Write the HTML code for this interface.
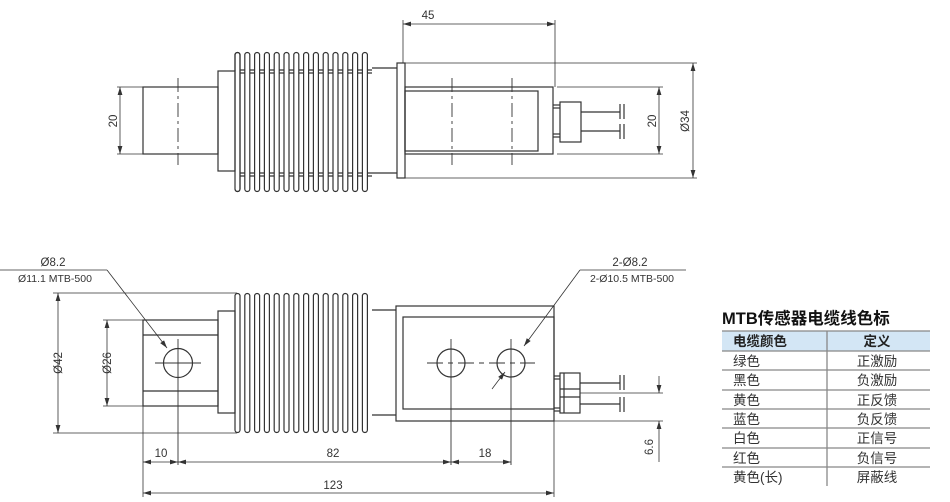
<!DOCTYPE html>
<html><head><meta charset="utf-8">
<style>
html,body{margin:0;padding:0;background:#fff;}
body{width:950px;height:502px;overflow:hidden;}
svg{display:block;}
text{font-family:"Liberation Sans","Noto Sans CJK SC",sans-serif;fill:#333;}
</style></head><body>
<svg width="950" height="502" viewBox="0 0 950 502" xmlns="http://www.w3.org/2000/svg">
<defs>
<marker id="a" viewBox="0 0 10 6" refX="10" refY="3" markerWidth="8" markerHeight="5" orient="auto-start-reverse" markerUnits="userSpaceOnUse"><path d="M0,0 L10,3 L0,6 z" fill="#333"/></marker>
</defs>
<g stroke="#333" stroke-width="1.2" fill="none">
<!-- TOP VIEW -->
<rect x="143" y="87" width="75" height="67"/>
<rect x="218" y="71" width="17" height="100"/>
<g id="fins">
<path d="M235,71 V55 a2.5,2.5 0 0 1 5,0 V189 a2.5,2.5 0 0 1 -5,0"/>
</g>
<g>
<path d="M235,55 a2.5,2.5 0 0 1 5,0 V189 a2.5,2.5 0 0 1 -5,0 Z" transform="translate(0,0)"/>
<path d="M235,55 a2.5,2.5 0 0 1 5,0 V189 a2.5,2.5 0 0 1 -5,0 Z" transform="translate(9.8,0)"/>
<path d="M235,55 a2.5,2.5 0 0 1 5,0 V189 a2.5,2.5 0 0 1 -5,0 Z" transform="translate(19.6,0)"/>
<path d="M235,55 a2.5,2.5 0 0 1 5,0 V189 a2.5,2.5 0 0 1 -5,0 Z" transform="translate(29.4,0)"/>
<path d="M235,55 a2.5,2.5 0 0 1 5,0 V189 a2.5,2.5 0 0 1 -5,0 Z" transform="translate(39.2,0)"/>
<path d="M235,55 a2.5,2.5 0 0 1 5,0 V189 a2.5,2.5 0 0 1 -5,0 Z" transform="translate(49,0)"/>
<path d="M235,55 a2.5,2.5 0 0 1 5,0 V189 a2.5,2.5 0 0 1 -5,0 Z" transform="translate(58.8,0)"/>
<path d="M235,55 a2.5,2.5 0 0 1 5,0 V189 a2.5,2.5 0 0 1 -5,0 Z" transform="translate(68.6,0)"/>
<path d="M235,55 a2.5,2.5 0 0 1 5,0 V189 a2.5,2.5 0 0 1 -5,0 Z" transform="translate(78.4,0)"/>
<path d="M235,55 a2.5,2.5 0 0 1 5,0 V189 a2.5,2.5 0 0 1 -5,0 Z" transform="translate(88.2,0)"/>
<path d="M235,55 a2.5,2.5 0 0 1 5,0 V189 a2.5,2.5 0 0 1 -5,0 Z" transform="translate(98,0)"/>
<path d="M235,55 a2.5,2.5 0 0 1 5,0 V189 a2.5,2.5 0 0 1 -5,0 Z" transform="translate(107.8,0)"/>
<path d="M235,55 a2.5,2.5 0 0 1 5,0 V189 a2.5,2.5 0 0 1 -5,0 Z" transform="translate(117.6,0)"/>
<path d="M235,55 a2.5,2.5 0 0 1 5,0 V189 a2.5,2.5 0 0 1 -5,0 Z" transform="translate(127.4,0)"/>
</g>
<line x1="235" y1="70" x2="372" y2="70" stroke-dasharray="5,4.8" stroke-dashoffset="-5"/>
<line x1="235" y1="73" x2="372" y2="73" stroke-dasharray="5,4.8" stroke-dashoffset="-5"/>
<line x1="235" y1="173" x2="372" y2="173" stroke-dasharray="5,4.8" stroke-dashoffset="-5"/>
<line x1="235" y1="176" x2="372" y2="176" stroke-dasharray="5,4.8" stroke-dashoffset="-5"/>
<line x1="372" y1="68" x2="397" y2="68"/>
<line x1="372" y1="173" x2="397" y2="173"/>
<rect x="397" y="63" width="8" height="115"/>
<rect x="405" y="87" width="148" height="67"/>
<rect x="405" y="91" width="133" height="60"/>
<line x1="553" y1="105" x2="560" y2="105"/><line x1="553" y1="108" x2="560" y2="108"/>
<line x1="553" y1="134" x2="560" y2="134"/><line x1="553" y1="137" x2="560" y2="137"/>
<rect x="560" y="102" width="21" height="40"/>
<line x1="581" y1="112" x2="620" y2="112"/><line x1="581" y1="131" x2="620" y2="131"/>
<line x1="620" y1="104" x2="620" y2="119"/><line x1="624" y1="104" x2="624" y2="119"/>
<line x1="620" y1="124" x2="620" y2="139"/><line x1="624" y1="124" x2="624" y2="139"/>
<g stroke-width="0.9" stroke-dasharray="14,4,3,4">
<line x1="178" y1="78" x2="178" y2="165"/>
<line x1="452" y1="78" x2="452" y2="165"/>
<line x1="512" y1="78" x2="512" y2="165"/>
</g>
<!-- top dims -->
<g stroke-width="0.8">
<line x1="403" y1="20" x2="403" y2="63"/>
<line x1="555" y1="20" x2="555" y2="87"/>
<line x1="403" y1="24" x2="555" y2="24" marker-start="url(#a)" marker-end="url(#a)"/>
<line x1="117" y1="87" x2="143" y2="87"/>
<line x1="117" y1="154" x2="143" y2="154"/>
<line x1="120" y1="87" x2="120" y2="154" marker-start="url(#a)" marker-end="url(#a)"/>
<line x1="557" y1="87" x2="663" y2="87"/>
<line x1="557" y1="154" x2="663" y2="154"/>
<line x1="659" y1="87" x2="659" y2="154" marker-start="url(#a)" marker-end="url(#a)"/>
<line x1="405" y1="63" x2="697" y2="63"/>
<line x1="405" y1="178" x2="697" y2="178"/>
<line x1="693" y1="63" x2="693" y2="178" marker-start="url(#a)" marker-end="url(#a)"/>
</g>

<!-- BOTTOM VIEW -->
<rect x="143" y="320" width="75" height="86"/>
<line x1="143" y1="335" x2="218" y2="335"/>
<line x1="143" y1="391" x2="218" y2="391"/>
<rect x="218" y="311" width="17" height="102"/>
<g>
<path d="M235,296 a2.5,2.5 0 0 1 5,0 V430 a2.5,2.5 0 0 1 -5,0 Z" transform="translate(0,0)"/>
<path d="M235,296 a2.5,2.5 0 0 1 5,0 V430 a2.5,2.5 0 0 1 -5,0 Z" transform="translate(9.8,0)"/>
<path d="M235,296 a2.5,2.5 0 0 1 5,0 V430 a2.5,2.5 0 0 1 -5,0 Z" transform="translate(19.6,0)"/>
<path d="M235,296 a2.5,2.5 0 0 1 5,0 V430 a2.5,2.5 0 0 1 -5,0 Z" transform="translate(29.4,0)"/>
<path d="M235,296 a2.5,2.5 0 0 1 5,0 V430 a2.5,2.5 0 0 1 -5,0 Z" transform="translate(39.2,0)"/>
<path d="M235,296 a2.5,2.5 0 0 1 5,0 V430 a2.5,2.5 0 0 1 -5,0 Z" transform="translate(49,0)"/>
<path d="M235,296 a2.5,2.5 0 0 1 5,0 V430 a2.5,2.5 0 0 1 -5,0 Z" transform="translate(58.8,0)"/>
<path d="M235,296 a2.5,2.5 0 0 1 5,0 V430 a2.5,2.5 0 0 1 -5,0 Z" transform="translate(68.6,0)"/>
<path d="M235,296 a2.5,2.5 0 0 1 5,0 V430 a2.5,2.5 0 0 1 -5,0 Z" transform="translate(78.4,0)"/>
<path d="M235,296 a2.5,2.5 0 0 1 5,0 V430 a2.5,2.5 0 0 1 -5,0 Z" transform="translate(88.2,0)"/>
<path d="M235,296 a2.5,2.5 0 0 1 5,0 V430 a2.5,2.5 0 0 1 -5,0 Z" transform="translate(98,0)"/>
<path d="M235,296 a2.5,2.5 0 0 1 5,0 V430 a2.5,2.5 0 0 1 -5,0 Z" transform="translate(107.8,0)"/>
<path d="M235,296 a2.5,2.5 0 0 1 5,0 V430 a2.5,2.5 0 0 1 -5,0 Z" transform="translate(117.6,0)"/>
<path d="M235,296 a2.5,2.5 0 0 1 5,0 V430 a2.5,2.5 0 0 1 -5,0 Z" transform="translate(127.4,0)"/>
</g>
<line x1="372" y1="310" x2="396" y2="310"/>
<line x1="372" y1="415" x2="396" y2="415"/>
<rect x="396" y="306" width="158" height="115"/>
<rect x="403" y="317" width="151" height="92"/>
<circle cx="178" cy="363" r="14.5"/>
<circle cx="451" cy="363" r="14"/>
<circle cx="511" cy="363" r="14"/>
<line x1="554" y1="376" x2="560" y2="376"/><line x1="554" y1="379" x2="560" y2="379"/>
<line x1="554" y1="408" x2="560" y2="408"/><line x1="554" y1="411" x2="560" y2="411"/>
<rect x="560" y="373" width="20" height="40"/>
<line x1="560" y1="389" x2="580" y2="389"/><line x1="560" y1="397" x2="580" y2="397"/>
<line x1="564" y1="373" x2="564" y2="413"/>
<line x1="580" y1="383" x2="620" y2="383"/><line x1="580" y1="404" x2="620" y2="404"/>
<line x1="620" y1="375" x2="620" y2="390"/><line x1="624" y1="375" x2="624" y2="390"/>
<line x1="620" y1="397" x2="620" y2="412"/><line x1="624" y1="397" x2="624" y2="412"/>
<g stroke-width="0.9">
<line x1="155" y1="363" x2="201" y2="363"/>
<line x1="178" y1="339" x2="178" y2="465"/>
<line x1="427" y1="363" x2="535" y2="363" stroke-dasharray="16,5,5,5"/>
<line x1="451" y1="339" x2="451" y2="465"/>
<line x1="511" y1="339" x2="511" y2="465"/>
</g>
<!-- bottom dims -->
<g stroke-width="0.8">
<line x1="0" y1="270" x2="107" y2="270"/>
<line x1="107" y1="270" x2="167" y2="348" marker-end="url(#a)"/>
<line x1="580" y1="270" x2="686" y2="270"/>
<line x1="580" y1="270" x2="524" y2="346" marker-end="url(#a)"/>
<line x1="498" y1="381" x2="492" y2="389"/>
<line x1="505" y1="372" x2="498" y2="381" marker-start="url(#a)"/>
<line x1="53" y1="293" x2="237" y2="293"/>
<line x1="53" y1="433" x2="237" y2="433"/>
<line x1="58" y1="293" x2="58" y2="433" marker-start="url(#a)" marker-end="url(#a)"/>
<line x1="103" y1="320" x2="143" y2="320"/>
<line x1="103" y1="406" x2="143" y2="406"/>
<line x1="107" y1="320" x2="107" y2="406" marker-start="url(#a)" marker-end="url(#a)"/>
<line x1="143" y1="406" x2="143" y2="497"/>
<line x1="554" y1="421" x2="554" y2="497"/>
<line x1="143" y1="462" x2="178" y2="462" marker-start="url(#a)" marker-end="url(#a)"/>
<line x1="178" y1="462" x2="451" y2="462" marker-start="url(#a)" marker-end="url(#a)"/>
<line x1="451" y1="462" x2="511" y2="462" marker-start="url(#a)" marker-end="url(#a)"/>
<line x1="143" y1="493" x2="554" y2="493" marker-start="url(#a)" marker-end="url(#a)"/>
<line x1="580" y1="393" x2="663" y2="393"/>
<line x1="554" y1="421" x2="663" y2="421"/>
<line x1="659" y1="376" x2="659" y2="393" marker-end="url(#a)"/>
<line x1="659" y1="462" x2="659" y2="421" marker-end="url(#a)"/>
</g>
</g>

<g font-size="11.5" text-anchor="middle">
<text x="428" y="19">45</text>
<text transform="translate(117,121) rotate(-90)">20</text>
<text transform="translate(656,121) rotate(-90)">20</text>
<text transform="translate(689,121) rotate(-90)">Ø34</text>
<text x="53" y="266">Ø8.2</text>
<text x="55" y="282" font-size="10.5">Ø11.1 MTB-500</text>
<text x="630" y="266">2-Ø8.2</text>
<text x="632" y="282" font-size="10.5">2-Ø10.5 MTB-500</text>
<text transform="translate(62,363) rotate(-90)">Ø42</text>
<text transform="translate(111,363) rotate(-90)">Ø26</text>
<text x="161" y="457">10</text>
<text x="333" y="457">82</text>
<text x="485" y="457">18</text>
<text x="333" y="489">123</text>
<text transform="translate(653,447) rotate(-90)">6.6</text>
</g>

<!-- TABLE -->
<text x="722" y="324" font-size="16.5" font-weight="bold" fill="#111" style="fill:#111">MTB传感器电缆线色标</text>
<rect x="722" y="331" width="208" height="20" fill="#d3e6f5"/>
<g stroke="#888" stroke-width="1.3">
<line x1="722" y1="331" x2="930" y2="331"/>
<line x1="722" y1="351" x2="930" y2="351"/>
<line x1="722" y1="370" x2="930" y2="370"/>
<line x1="722" y1="390" x2="930" y2="390"/>
<line x1="722" y1="409" x2="930" y2="409"/>
<line x1="722" y1="428" x2="930" y2="428"/>
<line x1="722" y1="448" x2="930" y2="448"/>
<line x1="722" y1="467" x2="930" y2="467"/>
<line x1="827" y1="331" x2="827" y2="486"/>
</g>
<g font-size="13.5">
<text x="733" y="346" font-weight="bold" fill="#222" style="fill:#222">电缆颜色</text>
<text x="877" y="346" font-weight="bold" text-anchor="middle" style="fill:#222">定义</text>
<text x="733" y="366">绿色</text><text x="877" y="366" text-anchor="middle">正激励</text>
<text x="733" y="385">黑色</text><text x="877" y="385" text-anchor="middle">负激励</text>
<text x="733" y="405">黄色</text><text x="877" y="405" text-anchor="middle">正反馈</text>
<text x="733" y="424">蓝色</text><text x="877" y="424" text-anchor="middle">负反馈</text>
<text x="733" y="443">白色</text><text x="877" y="443" text-anchor="middle">正信号</text>
<text x="733" y="463">红色</text><text x="877" y="463" text-anchor="middle">负信号</text>
<text x="733" y="482">黄色(长)</text><text x="877" y="482" text-anchor="middle">屏蔽线</text>
</g>
</svg>
</body></html>
